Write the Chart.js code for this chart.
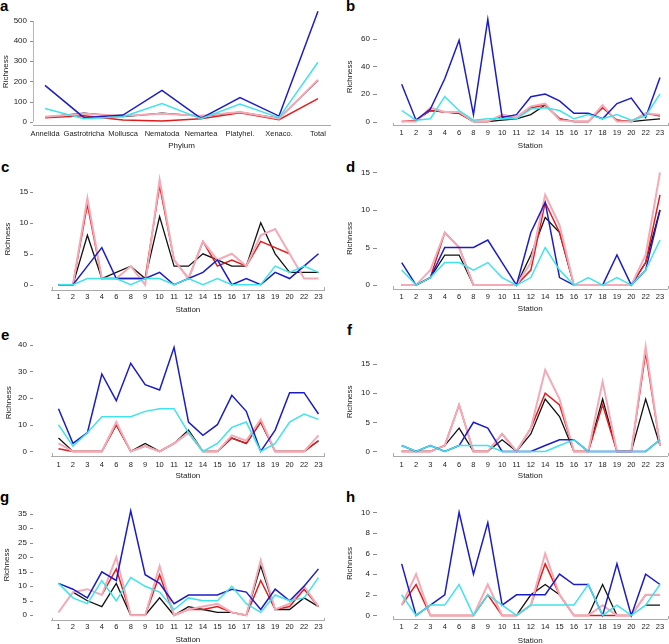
<!DOCTYPE html>
<html><head><meta charset="utf-8">
<script src="https://cdn.jsdelivr.net/npm/chart.js@4.4.1/dist/chart.umd.min.js"></script>
<style>
html,body{margin:0;padding:0;background:#fff;width:669px;height:644px;overflow:hidden;position:relative;font-family:'Liberation Sans',Arial,sans-serif}
canvas{position:absolute}
.lab{position:absolute;font-weight:bold;font-size:15px;line-height:15px;color:#000;font-family:'Liberation Sans',Arial,sans-serif}
</style></head><body>
<div class="lab" style="left:0px;top:-2px">a</div>
<div class="lab" style="left:346px;top:-2px">b</div>
<div class="lab" style="left:1px;top:159px">c</div>
<div class="lab" style="left:346px;top:159px">d</div>
<div class="lab" style="left:1px;top:327px">e</div>
<div class="lab" style="left:347px;top:322px">f</div>
<div class="lab" style="left:0px;top:489px">g</div>
<div class="lab" style="left:346px;top:489px">h</div>
<script>
// ---------- data ----------
const phyla = ['Annelida','Gastrotricha','Mollusca','Nematoda','Nemartea','Platyhel.','Xenaco.','Total'];
const stations = ['1','2','3','4','6','8','9','10','11','12','14','15','16','17','18','19','20','22','23'];

const aBlue  = [180, 20, 33, 155, 16, 120, 28, 548];
const aCyan  = [66, 15, 25, 90, 15, 88, 20, 295];
const aBlack = [22, 42, 25, 42, 28, 47, 17, 205];
const aRed   = [20, 30, 8, 4, 15, 45, 10, 115];
const aPink  = [25, 40, 30, 40, 30, 48, 15, 208];

const bBlue  = [27,1,9,31,59,5,74,3,5,18,20,15,6,6,2,13,17,3,32];
const bCyan  = [8,1,2,18,8,1,2,2,2,9,10,8,2,5,2,5,1,4,20];
const bBlack = [null,1,8,7,6,0,0,1,2,5,12,2,0,0,null,1,0,1,2];
const bRed   = [0,1,8,7,6,0,0,4,3,10,12,2,0,0,10,1,0,6,4];
const bPink  = [0,0,10,7,7,0,0,5,3,11,13,1,0,0,12,0,0,6,5];

const cBlue  = [0,0,3,6,1,1,1,2,0,1,2,4,0,1,0,2,1,3,5];
const cCyan  = [0,0,1,1,1,0,1,1,0,1,0,1,0,0,0,3,2,3,2];
const cBlack = [0,0,8,1,2,3,1,11,3,3,5,4,3,3,10,5,2,2,2];
const cRed   = [0,0,13,1,1,1,1,16,4,1,7,3,4,3,7,6,5,null,null];
const cPink  = [0,0,14,1,1,3,0,17,4,1,7,4,5,3,8,9,5,1,1];

const dBlue  = [3,0,1,5,5,5,6,3,0,7,11,1,0,null,0,4,0,2,10];
const dCyan  = [2,0,1,3,3,2,3,1,0,1,5,2,0,1,0,1,0,2,6];
const dBlack = [0,0,1,4,4,0,0,0,0,4,9,7,0,0,0,0,0,3,10];
const dRed   = [0,0,1,7,5,0,0,0,0,2,11,7,0,0,0,0,0,3,12];
const dPink  = [0,0,2,7,5,0,0,0,0,3,12,8,0,0,0,0,0,4,15];

const eBlue  = [16,3,7,29,19,33,25,23,39,11,6,10,21,15,0,8,22,22,14];
const eCyan  = [10,2,7,13,13,13,15,16,16,7,0,3,9,11,0,3,11,14,12];
const eBlack = [5,0,0,0,10,0,3,0,3,8,0,0,5,3,11,0,0,0,4];
const eRed   = [1,0,0,0,10,0,2,0,3,7,0,0,5,3,11,0,0,0,4];
const ePink  = [3,0,0,0,11,0,2,0,3,7,0,0,6,4,12,0,0,0,6];

const fBlue  = [1,0,1,0,1,5,4,0,0,0,1,2,2,0,0,0,0,0,2];
const fCyan  = [1,0,1,0,1,1,1,0,0,0,0,1,2,0,0,0,0,0,2];
const fBlack = [0,0,0,1,4,0,0,2,0,3,9,6,0,0,9,0,0,9,1];
const fRed   = [0,0,0,1,8,0,0,3,0,4,10,8,0,0,8,0,0,17,1];
const fPink  = [0,0,0,1,8,0,0,3,0,4,14,9,0,0,12,0,0,18,1];

const gBlue  = [11,9,6,15,12,36,14,11,4,7,7,7,9,8,2,9,5,10,16];
const gCyan  = [11,6,4,12,5,13,10,8,2,6,5,5,10,4,1,7,5,6,13];
const gBlack = [null,8,5,3,11,0,0,6,0,3,2,1,1,0,17,2,2,6,3];
const gRed   = [null,null,null,7,16,0,0,14,0,2,2,3,1,0,12,2,3,9,3];
const gPink  = [1,8,9,7,20,0,0,17,0,2,3,4,1,0,19,2,4,10,3];

const hBlue  = [5,0,1,2,10,4,9,1,2,2,2,4,3,3,0,5,0,4,3];
const hCyan  = [2,0,1,1,3,0,2,1,0,1,1,1,1,3,0,1,0,1,3];
const hBlack = [null,null,null,null,null,null,null,null,0,2,3,2,null,0,3,0,null,1,1];
const hRed   = [1,3,0,0,0,0,2,0,0,1,5,2,0,0,0,0,0,2,2];
const hPink  = [1,4,0,0,0,0,3,0,0,1,6,2,0,0,1,0,0,2,2];

const aTicks = [0,100,200,300,400,500];
const bTicks = [0,20,40,60];
const cTicks = [0,5,10,15];
const dTicks = [0,5,10,15];
const eTicks = [0,10,20,30,40];
const fTicks = [0,5,10,15];
const gTicks = [0,5,10,15,20,25,30,35];
const hTicks = [0,2,4,6,8,10];

// ---------- layout (page pixels) ----------
const LEFT  = {w:335, L:51.7, R:324, c0:58.5, cN:318.5, tick:[30,33], caps:true};
const RIGHT = {w:334, L:393, R:667.5, c0:401.7, cN:660, tick:[373,377], labR:370, richX:350, caps:true};
const panels = [
  {id:'a', labels:phyla, ticks:aTicks, s:[aCyan,aBlue,aPink,aRed,aBlack], xTitle:'Phylum',
   x:0, y:0, w:335, L:33, R:330, B:125, T:18.4, c0:45, cN:318, y0:121.7, yr:21, rv:500, tick:[30,33], labR:27, xLabY:134, xTitY:146, richX:6, yLine:true, caps:false},
  {id:'b', labels:stations, ticks:bTicks, s:[bCyan,bBlue,bPink,bRed,bBlack], xTitle:'Station',
   ...RIGHT, x:335, y:0, B:126, T:16, y0:121, yr:28.3, rv:60, xLabY:133.3, xTitY:146},
  {id:'c', labels:stations, ticks:cTicks, s:[cCyan,cBlue,cPink,cRed,cBlack], xTitle:'Station',
   ...LEFT, x:0, y:160, B:290, T:180, y0:284.3, yr:184, rv:15, labR:28.3, xLabY:296.7, xTitY:310, richX:8},
  {id:'d', labels:stations, ticks:dTicks, s:[dCyan,dBlue,dPink,dRed,dBlack], xTitle:'Station',
   ...RIGHT, x:335, y:160, B:289.3, T:185.7, y0:285, yr:170, rv:15, xLabY:296.7, xTitY:309},
  {id:'e', labels:stations, ticks:eTicks, s:[eCyan,eBlue,ePink,eRed,eBlack], xTitle:'Station',
   ...LEFT, x:0, y:320, B:456, T:340, y0:451, yr:334.7, rv:40, labR:27, xLabY:464.5, xTitY:475.8, richX:9},
  {id:'f', labels:stations, ticks:fTicks, s:[fCyan,fBlue,fPink,fRed,fBlack], xTitle:'Station',
   ...RIGHT, x:335, y:320, B:456, T:339, y0:451, yr:356.7, rv:15, xLabY:465, xTitY:476},
  {id:'g', labels:stations, ticks:gTicks, s:[gCyan,gBlue,gPink,gRed,gBlack], xTitle:'Station',
   ...LEFT, x:0, y:480, B:620.7, T:499.3, y0:615, yr:504, rv:35, labR:27, xLabY:627, xTitY:640, richX:7},
  {id:'h', labels:stations, ticks:hTicks, s:[hCyan,hBlue,hPink,hRed,hBlack], xTitle:'Station',
   ...RIGHT, x:335, y:480, B:619.3, T:495.7, y0:615, yr:500.7, rv:10, xLabY:626.7, xTitY:640.7},
];
const colors = ['#3fe3ea', '#1c1cc6', '#f4aab7', '#e01c1c', '#111111'];
const widths = [1.5, 1.5, 2, 1.5, 1.3];
const FONT = "'Liberation Sans', Arial, Helvetica, sans-serif";
Chart.defaults.font.family = FONT;

const H = 170;
function makeChart(p) {
  const cv = document.createElement('canvas');
  cv.width = p.w; cv.height = H;
  cv.style.left = p.x + 'px'; cv.style.top = p.y + 'px';
  document.body.appendChild(cv);
  const L = p.L - p.x, R = p.R - p.x, B = p.B - p.y, T = p.T - p.y;
  const pl = p.richX - p.x - 4.8;
  const pb = H - (p.xTitY - p.y) - 4.8;
  const wY = L - pl, hX = H - pb - B;
  const n = p.labels.length;
  const k = (p.cN - p.c0) / (n - 1);
  const xmin = (p.L - p.c0) / k, xmax = (n - 1) + (p.R - p.cN) / k;
  const ky = (p.y0 - p.yr) / p.rv;
  const ymin = -(p.B - p.y0) / ky, ymax = (p.y0 - p.T) / ky;

  const axisPlugin = {
    id: 'axisExtras',
    afterDraw(chart) {
      const ctx = chart.ctx, ys = chart.scales.y, ca = chart.chartArea;
      ctx.save();
      ctx.strokeStyle = '#8a8a8a'; ctx.lineWidth = 1;
      p.ticks.forEach(v => {
        const py = Math.round(ys.getPixelForValue(v)) + 0.5;
        ctx.beginPath(); ctx.moveTo(p.tick[0] - p.x, py); ctx.lineTo(p.tick[1] - p.x, py); ctx.stroke();
      });
      if (p.yLine) {
        ctx.strokeStyle = '#b5b5b5';
        const xl = Math.round(ca.left) + 0.5;
        ctx.beginPath();
        ctx.moveTo(xl, ys.getPixelForValue(p.ticks[0]));
        ctx.lineTo(xl, ys.getPixelForValue(p.ticks[p.ticks.length - 1]));
        ctx.stroke();
      }
      if (p.caps) {
        ctx.strokeStyle = '#aaaaaa';
        const yb = Math.round(ca.bottom);
        [ca.left, ca.right].forEach(xx => {
          const xc = Math.round(xx) + 0.5;
          ctx.beginPath(); ctx.moveTo(xc, yb); ctx.lineTo(xc, yb - 3); ctx.stroke();
        });
      }
      ctx.restore();
    }
  };

  const datasets = p.s.map((arr, i) => ({
    data: arr, borderColor: colors[i], borderWidth: widths[i],
    pointRadius: 0, tension: 0, spanGaps: false, clip: false, fill: false
  }));

  new Chart(cv, {
    type: 'line',
    data: { labels: p.labels.map((_, i) => i), datasets },
    options: {
      responsive: false, animation: false, devicePixelRatio: 1,
      layout: { padding: { left: pl, right: p.w - R, top: T, bottom: pb } },
      plugins: { legend: { display: false }, tooltip: { enabled: false } },
      scales: {
        x: {
          type: 'linear', min: xmin, max: xmax,
          afterBuildTicks: s => { s.ticks = p.labels.map((_, i) => ({ value: i })); },
          afterFit: s => { s.height = hX; },
          grid: { display: false, drawTicks: false },
          border: { display: true, color: '#aaaaaa', width: 1 },
          ticks: { autoSkip: false, maxRotation: 0, minRotation: 0, padding: p.xLabY - p.B - 4.5,
                   font: { size: 7.5 }, color: '#222', callback: v => p.labels[Math.round(v)] },
          title: { display: true, text: p.xTitle, font: { size: 8 }, color: '#222', padding: 0 }
        },
        y: {
          type: 'linear', min: ymin, max: ymax,
          afterBuildTicks: s => { s.ticks = p.ticks.map(v => ({ value: v })); },
          afterFit: s => { s.width = wY; },
          grid: { display: false, drawTicks: false },
          border: { display: false },
          ticks: { autoSkip: false, padding: p.L - p.labR, font: { size: 8 }, color: '#222',
                   callback: v => String(v) },
          title: { display: true, text: 'Richness', font: { size: 8 }, color: '#222', padding: 0 }
        }
      }
    },
    plugins: [axisPlugin]
  });
}
panels.forEach(makeChart);
</script>
</body></html>
